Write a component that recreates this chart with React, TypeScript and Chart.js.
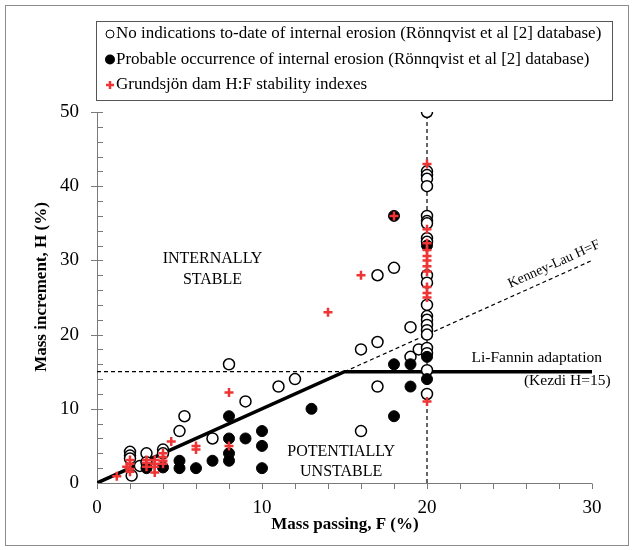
import React, { useEffect, useRef } from "react";
import { Chart, registerables } from "chart.js";
Chart.register(...registerables);

// Open circles: no indications to-date of internal erosion
const noIndF = [2, 2, 2, 2.1, 2.6, 3, 3, 4, 4, 5, 5.3, 7, 8, 9, 11, 12, 16, 16, 17, 17, 17, 18, 19, 19, 19.5,
  20, 20, 20, 20, 20, 20, 20, 20, 20, 20, 20, 20, 20, 20, 20, 20, 20, 20, 20, 20, 20, 20];
const noIndH = [4.2, 3.7, 3.3, 1.0, 2.3, 4.0, 2.8, 4.5, 4.0, 7.0, 9.0, 6.0, 16.0, 11.0, 13.0, 14.0, 7.0, 18.0, 19.0, 13.0, 28.0, 29.0, 21.0, 17.0, 18.0,
  50, 42, 41.5, 41, 40, 36, 35.3, 35, 33, 32.5, 28, 27, 24, 22.5, 22, 21.3, 20.6, 20, 18.2, 17.5, 15.2, 12];

// Filled circles: probable occurrence of internal erosion
const probF = [3, 4, 5, 5, 6, 7, 8, 8, 8, 8, 9, 10, 10, 10, 13, 18, 19, 19, 18, 18, 20, 20, 20];
const probH = [2, 2.1, 3, 2, 2, 3, 9, 6, 4, 3, 6, 7, 5, 2, 10, 16, 16, 13, 9, 36, 32, 17, 14];

// Red crosses: Grundsjön dam H:F stability indexes
const grundF = [1.2, 2, 2, 1.8, 2, 2, 3, 3, 3, 3.5, 3.5, 3.5, 3.5, 4, 4, 4, 4, 4.5, 6, 6, 8, 8, 14, 16, 18,
  20, 20, 20, 20, 20, 20, 20, 20, 20, 20, 20, 20];
const grundH = [0.9, 1.5, 1.9, 2.2, 2.6, 3.1, 3.1, 2.7, 2.2, 3.1, 2.6, 2.2, 1.4, 4.0, 3.5, 3.0, 2.6, 5.6, 5.0, 4.5, 12.2, 5.0, 23.0, 28.0, 36.0,
  43, 34.2, 32.3, 31.4, 30.6, 30, 29.2, 28.5, 26.4, 25.6, 25, 11];

// Criteria lines
const liFanninF = [0, 15, 30];
const liFanninH = [0, 15, 15];
const kenneyF = [15, 30];
const kenneyH = [15, 30];
const kezdiLeftF = [0, 15];
const kezdiLeftH = [15, 15];
const limitF = [20, 20];
const limitH = [0, 50];

const xMin = 0, xMax = 30, xStep = 2, xLabelEvery = 10;
const yMin = 0, yMax = 50, yStep = 2, yLabelEvery = 10;

const legendLabels = [
  "No indications to-date of internal erosion (Rönnqvist et al [2] database)",
  "Probable occurrence of internal erosion (Rönnqvist et al [2] database)",
  "Grundsjön dam H:F stability indexes",
];
const xTitle = "Mass passing, F (%)";
const yTitle = "Mass increment, H (%)";

const SERIF = '"Liberation Serif", "Times New Roman", serif';
const RED = "#ee3434";
const AXIS = "#7a7a7a";

const pts = (xs: number[], ys: number[]) => xs.map((x, i) => ({ x, y: ys[i] }));

export default function App() {
  const ref = useRef<HTMLCanvasElement>(null);
  useEffect(() => {
    if (!ref.current) return;

    const decor = {
      id: "decor",
      beforeDatasetsDraw(chart: any) {
        const ctx = chart.ctx;
        const xs = chart.scales.x, ys = chart.scales.y;
        const x0 = xs.getPixelForValue(xMin), y0 = ys.getPixelForValue(yMin);
        ctx.save();
        ctx.strokeStyle = AXIS;
        ctx.lineWidth = 1;
        ctx.beginPath();
        ctx.moveTo(Math.round(x0) + 0.5, ys.getPixelForValue(yMax));
        ctx.lineTo(Math.round(x0) + 0.5, Math.round(y0) + 0.5);
        ctx.lineTo(xs.getPixelForValue(xMax), Math.round(y0) + 0.5);
        for (let v = xMin; v <= xMax; v += xStep) {
          const px = Math.round(xs.getPixelForValue(v)) + 0.5;
          ctx.moveTo(px, Math.round(y0) + 0.5);
          ctx.lineTo(px, Math.round(y0) + 6);
        }
        for (let v = yMin + yStep; v <= yMax; v += yStep) {
          const py = Math.round(ys.getPixelForValue(v)) + 0.5;
          const major = v % yLabelEvery === 0;
          ctx.moveTo(Math.round(x0) + (major ? -6 : 0.5), py);
          ctx.lineTo(Math.round(x0) + 6, py);
        }
        ctx.stroke();
        ctx.restore();
      },
      afterDraw(chart: any) {
        const ctx = chart.ctx;
        const xs = chart.scales.x, ys = chart.scales.y;
        const P = (f: number, h: number) => [xs.getPixelForValue(f), ys.getPixelForValue(h)];
        ctx.save();
        ctx.strokeStyle = "#8c8c8c";
        ctx.lineWidth = 1;
        ctx.strokeRect(5.5, 5.5, 623, 540);
        ctx.strokeStyle = "#555";
        ctx.strokeRect(96.5, 21.5, 516, 79);
        ctx.font = `17px ${SERIF}`;
        ctx.fillStyle = "#000";
        ctx.textAlign = "left";
        ctx.textBaseline = "middle";
        const rows = [34, 59.5, 85];
        const mx = 110;
        ctx.beginPath();
        ctx.lineWidth = 1;
        ctx.strokeStyle = "#000";
        ctx.arc(mx, rows[0], 4, 0, Math.PI * 2);
        ctx.stroke();
        ctx.beginPath();
        ctx.arc(mx, rows[1], 5, 0, Math.PI * 2);
        ctx.fill();
        ctx.strokeStyle = RED;
        ctx.lineWidth = 2.5;
        ctx.beginPath();
        ctx.moveTo(mx - 4, rows[2]); ctx.lineTo(mx + 4, rows[2]);
        ctx.moveTo(mx, rows[2] - 4); ctx.lineTo(mx, rows[2] + 4);
        ctx.stroke();
        ctx.fillStyle = "#000";
        legendLabels.forEach((t, i) => ctx.fillText(t, 116, rows[i]));

        ctx.font = `16px ${SERIF}`;
        ctx.textAlign = "center";
        let [ax, ay] = P(7, 30.2);
        ctx.fillText("INTERNALLY", ax, ay);
        [ax, ay] = P(7, 27.4);
        ctx.fillText("STABLE", ax, ay);
        [ax, ay] = P(14.8, 4.2);
        ctx.fillText("POTENTIALLY", ax, ay);
        [ax, ay] = P(14.8, 1.5);
        ctx.fillText("UNSTABLE", ax, ay);
        ctx.font = `15.5px ${SERIF}`;
        [ax, ay] = P(28.5, 13.7);
        ctx.fillText("(Kezdi H=15)", ax, ay);
        ctx.textAlign = "left";
        [ax, ay] = P(22.7, 16.8);
        ctx.fillText("Li-Fannin adaptation", ax, ay);
        const [k1x, k1y] = P(15, 15);
        const [k2x, k2y] = P(30, 30);
        const ang = Math.atan2(k2y - k1y, k2x - k1x);
        [ax, ay] = P(28.0, 28.0);
        ctx.save();
        ctx.translate(ax, ay);
        ctx.rotate(ang);
        ctx.font = `14px ${SERIF}`;
        ctx.textAlign = "center";
        ctx.fillText("Kenney-Lau H=F", 0, -12);
        ctx.restore();

        ctx.font = `bold 17px ${SERIF}`;
        ctx.textAlign = "center";
        ctx.fillText(xTitle, 345, 525);
        ctx.save();
        ctx.translate(42, 287);
        ctx.rotate(-Math.PI / 2);
        ctx.fillText(yTitle, 0, 0);
        ctx.restore();
        ctx.restore();
      },
    };

    const chart = new Chart(ref.current, {
      type: "scatter",
      data: {
        datasets: [
          {
            label: legendLabels[2],
            data: pts(grundF, grundH),
            pointStyle: "cross",
            pointRadius: 4.5,
            borderColor: RED,
            backgroundColor: RED,
            borderWidth: 2.5,
            order: 0,
          },
          {
            label: legendLabels[1],
            data: pts(probF, probH),
            pointStyle: "circle",
            pointRadius: 5.5,
            borderColor: "#000",
            backgroundColor: "#000",
            borderWidth: 1,
            order: 1,
          },
          {
            label: legendLabels[0],
            data: pts(noIndF, noIndH),
            pointStyle: "circle",
            pointRadius: 5.5,
            borderColor: "#000",
            backgroundColor: "#fff",
            borderWidth: 1.5,
            order: 2,
          },
          {
            type: "line",
            label: "Li-Fannin adaptation",
            data: pts(liFanninF, liFanninH),
            borderColor: "#000",
            borderWidth: 3.5,
            pointRadius: 0,
            showLine: true,
            order: 3,
          } as any,
          {
            type: "line",
            label: "Kenney-Lau H=F",
            data: pts(kenneyF, kenneyH),
            borderColor: "#000",
            borderWidth: 1.2,
            borderDash: [4, 3],
            pointRadius: 0,
            showLine: true,
            order: 4,
          } as any,
          {
            type: "line",
            label: "Kezdi H=15",
            data: pts(kezdiLeftF, kezdiLeftH),
            borderColor: "#000",
            borderWidth: 1.2,
            borderDash: [4, 3],
            pointRadius: 0,
            showLine: true,
            order: 5,
          } as any,
          {
            type: "line",
            label: "F=20",
            data: pts(limitF, limitH),
            borderColor: "#000",
            borderWidth: 1.2,
            borderDash: [4, 3],
            pointRadius: 0,
            showLine: true,
            order: 6,
          } as any,
        ],
      },
      options: {
        responsive: false,
        animation: false,
        layout: { padding: { left: 0, right: 42, top: 112, bottom: 0 } },
        plugins: { legend: { display: false }, tooltip: { enabled: false } },
        scales: {
          x: {
            type: "linear",
            min: xMin,
            max: xMax,
            grid: { display: false, drawTicks: false },
            border: { display: false },
            ticks: {
              stepSize: xStep,
              autoSkip: false,
              maxRotation: 0,
              padding: 14,
              color: "#000",
              font: { family: SERIF, size: 19 },
              callback: (v: any) => (Number(v) % xLabelEvery === 0 ? String(v) : ""),
            },
            afterFit: (s: any) => { s.height = 67; },
          },
          y: {
            type: "linear",
            min: yMin,
            max: yMax,
            grid: { display: false, drawTicks: false },
            border: { display: false },
            ticks: {
              stepSize: yStep,
              autoSkip: false,
              padding: 18,
              color: "#000",
              font: { family: SERIF, size: 19 },
              callback: (v: any) => (Number(v) % yLabelEvery === 0 ? String(v) : ""),
            },
            afterFit: (s: any) => { s.width = 97; },
          },
        },
      },
      plugins: [decor],
    } as any);
    return () => chart.destroy();
  }, []);

  return (
    <div style={{ position: "absolute", left: 0, top: 0, width: 634, height: 550, background: "#fff" }}>
      <canvas ref={ref} width={634} height={550} />
    </div>
  );
}
